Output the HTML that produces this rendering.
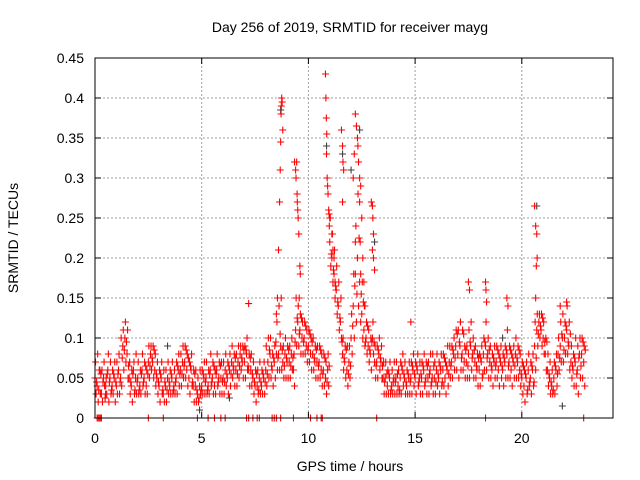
<!DOCTYPE html>
<html><head><meta charset="utf-8"><style>
body{margin:0;background:#fff}
svg{display:block;font-family:"Liberation Sans",sans-serif}
</style></head><body>
<svg id="chart" width="640" height="480" viewBox="0 0 640 480">
<text x="350" y="32" font-size="14" text-anchor="middle" fill="#000">Day 256 of 2019, SRMTID for receiver mayg</text>
<text transform="translate(18,238) rotate(-90)" font-size="14" text-anchor="middle" fill="#000">SRMTID / TECUs</text>
<text x="350" y="471" font-size="14" text-anchor="middle" fill="#000">GPS time / hours</text>
<g id="grid"></g>
<g id="ticks"></g>
<g id="gray"></g>
<g id="red"></g>
<rect x="95" y="58" width="518" height="360" fill="none" stroke="#000" stroke-width="1"/>
</svg>
<script>
// data (values in hundredths of TECU on a 0.1 h grid)
const gridStep = 0.1;
const seriesA = [5,4,6,3,5,4,6,5,4,5, 4,6,5,9,10,8,5,4,6,5, 5,4,6,5,4,7,8,7,6,5, 4,5,3,4,5,4,5,4,5,6, 6,7,7,6,5,6,4,4,3,4, 4,5,5,4,6,5,4,6,5,5, 5,6,5,6,7,6,6,7,8,7, 7,8,6,6,5,4,4,5,4,5, 6,7,8,6,7,8,8,9,7,8, 7,7,8,6,11,12,11,10,10,9, 9,8,8,7,7,7,6,6,5,6, 22,20,18,16,14,12,8,7,6,7, 10,14,18,20,17,13,11,10,9,8, 10,7,7,8,7,5,5,4,5,4, 5,5,4,5,6,5,4,5,5,6, 5,6,5,5,6,5,5,6,5,5, 6,5,6,6,5,6,7,7,8,9, 8,9,8,7,7,8,9,8,7,6, 6,7,8,9,8,7,6,7,7,6, 7,6,7,8,7,6,7,8,7,6, 5,4,5,6,5,6,9,11,12,11, 10,8,6,5,4,5,6,8,9,10, 10,11,9,7,6,7,6,8,8,7];
const seriesB = [7,8,6,6,7,5,8,7,6,7, 7,8,10,11,12,11,7,6,7,8, 7,6,8,7,6,9,9,9,8,7, 6,7,6,6,7,6,7,6,7,8, 8,9,9,8,7,8,6,6,5,6, 6,7,7,6,8,7,6,8,7,7, 7,8,7,8,9,8,8,9,9,9, 9,10,8,8,7,6,6,7,6,7, 9,10,10,8,9,12,14,15,9,10, 9,9,10,8,15,14,13,12,12,11, 11,10,10,9,9,9,8,8,7,8, 25,23,21,19,17,15,10,9,9,9, 13,18,24,28,22,17,14,12,11,10, 12,9,9,10,9,7,7,6,7,6, 7,7,6,7,8,7,6,7,7,8, 7,8,7,7,8,7,7,8,8,7, 8,7,8,8,7,9,9,9,10,11, 11,12,11,9,9,11,12,10,9,8, 8,9,10,12,10,9,8,9,9,8, 9,8,9,11,9,8,9,10,9,8, 7,6,7,8,7,8,12,13,13,13, 12,10,8,7,6,7,8,10,12,13, 12,14,12,9,8,10,9,10,10,9];
const seriesC = [3,2,3,2,4,3,2,3,3,2, 3,3,4,6,7,5,3,2,3,3, 3,3,4,3,3,5,6,5,4,3, 2,3,2,2,3,3,3,3,3,4, 4,5,5,4,3,4,2,2,2,3, 3,3,3,3,4,3,3,4,3,3, 3,4,3,4,5,4,4,5,6,5, 5,6,4,4,3,2,3,3,3,3, 4,5,5,4,5,6,6,6,5,5, 5,5,6,4,9,9,8,8,8,7, 7,6,6,5,5,5,4,4,3,4, 19,17,15,13,11,10,6,5,4,5, 8,10,12,14,12,10,9,8,7,6, 8,5,5,6,5,3,3,3,3,3, 3,3,3,3,4,3,3,3,3,4, 3,4,3,3,4,3,3,4,3,3, 4,3,4,4,3,4,5,5,6,6, 5,6,6,5,5,5,6,5,5,4, 4,5,6,6,5,5,4,5,5,4, 5,4,5,5,5,4,5,5,5,4, 3,2,3,4,3,4,6,9,10,9, 8,6,4,3,3,3,4,6,7,7, 8,8,6,5,4,4,3,5,5,4];
const seriesD = [4.5,3.5,5.5,4.5,2.5,5.5,4.5,3.5,5.5,4.5, 5.5,4.5,7.5,8.5,9.5,6.5,4.5,5.5,3.5,4.5, 3.5,5.5,4.5,6.5,5.5,6.5,7.5,8.5,5.5,4.5, 5.5,3.5,4.5,3.5,4.5,5.5,3.5,4.5,6.5,5.5, 5.5,6.5,8.5,7.5,6.5,4.5,5.5,3.5,2.5,3.5, 5.5,4.5,3.5,5.5,4.5,6.5,5.5,4.5,6.5,4.5, 4.5,5.5,6.5,5.5,6.5,7.5,5.5,6.5,7.5,8.5, 8.5,6.5,7.5,5.5,4.5,5.5,3.5,4.5,5.5,4.5, 5.5,8.5,6.5,7.5,9.5,7.5,10.5,8.5,6.5,7.5, 8.5,6.5,7.5,9.5,12.5,10.5,12.5,9.5,11.5,8.5, 10.5,9.5,7.5,8.5,6.5,8.5,5.5,7.5,4.5,6.5, 20.5,18.5,16.5,14.5,12.5,9.5,7.5,8.5,5.5,6.5, 11.5,16.5,15.5,22.5,15.5,14.5,9.5,11.5,8.5,9.5, 9.5,6.5,8.5,7.5,6.5,4.5,5.5,5.5,3.5,4.5, 4.5,5.5,3.5,6.5,5.5,4.5,5.5,4.5,6.5,5.5, 6.5,4.5,5.5,6.5,4.5,6.5,5.5,4.5,6.5,4.5, 5.5,6.5,4.5,7.5,6.5,5.5,6.5,8.5,7.5,10.5, 9.5,7.5,10.5,8.5,6.5,9.5,7.5,8.5,6.5,7.5, 7.5,5.5,9.5,7.5,8.5,6.5,7.5,6.5,8.5,7.5, 6.5,7.5,8.5,6.5,8.5,7.5,6.5,7.5,8.5,5.5, 6.5,5.5,3.5,4.5,6.5,4.5,7.5,10.5,11.5,12.5, 9.5,9.5,5.5,4.5,3.5,6.5,5.5,7.5,10.5,8.5, 11.5,9.5,10.5,6.5,7.5,5.5,7.5,6.5,9.5,8.5];
const spikeTimes = [8.5,8.55,8.6,8.65,8.68,8.7,8.72,8.73,8.75,8.77,8.8, 9.35,9.4,9.42,9.45,9.47,9.5,9.48,9.52,9.55,9.6,9.62,9.57, 10.8,10.82,10.84,10.86,10.85,10.88,10.9,10.92,10.95,10.97,11.0,10.98, 11.1,11.15,11.2,11.25,11.3, 11.55,11.6,11.62,11.65,11.6, 12.1,12.15,12.2,12.25,12.3,12.32,12.35,12.4,12.45,12.4,12.5,12.2,12.3,12.45,12.55,12.6,12.65, 12.95,13.0,13.02,13.05,13.0,13.05,13.1, 17.5,17.55,18.3,18.32,18.35,19.3,19.35, 20.6,20.65,20.7,20.72,20.68,20.65, 7.2,14.8,21.8,22.1];
const spikeValues = [0.13,0.15,0.21,0.27,0.31,0.345,0.38,0.39,0.40,0.395,0.36, 0.32,0.31,0.30,0.32,0.28,0.26,0.27,0.25,0.23,0.19,0.18,0.15, 0.43,0.40,0.375,0.355,0.33,0.30,0.29,0.28,0.26,0.255,0.25,0.24, 0.23,0.21,0.20,0.17,0.16, 0.36,0.34,0.32,0.31,0.27, 0.30,0.33,0.38,0.365,0.35,0.34,0.32,0.30,0.29,0.27,0.25,0.22,0.20,0.18,0.20,0.17,0.14, 0.27,0.265,0.25,0.23,0.21,0.20,0.185, 0.17,0.16,0.17,0.16,0.145,0.15,0.14, 0.265,0.24,0.23,0.20,0.19,0.15, 0.143,0.12,0.14,0.145];
const zeroTimes = [0.1,0.15,0.2,0.25,0.3,2.5,3.2,4.8,5.3,5.6,5.9,6.1,7.1,7.2,7.4,7.6,7.7,8.3,8.4,8.5,8.7,9.3,10.1,10.4,10.6,10.65,13.2,18.3,22.9];
const grayTimes = [8.7,10.85,11.6,12.4,20.7,21.9,4.9,12.0,13.1,19.1,0.5,3.4,6.3];
const grayValues = [0.385,0.34,0.33,0.36,0.265,0.015,0.01,0.31,0.22,0.1,0.03,0.09,0.025];
const xTicks = [0,5,10,15,20];
const yTicks = [0,0.05,0.1,0.15,0.2,0.25,0.3,0.35,0.4,0.45];
const yTickLabels = ["0","0.05","0.1","0.15","0.2","0.25","0.3","0.35","0.4","0.45"];

const X0=95, X1=613, Y0=418, Y1=58, XMAX=(613-95)/21.34;
function xs(t){return X0+t*(X1-X0)/XMAX;}
function ys(v){return Y0-v*(Y0-Y1)/0.45;}
const NS="http://www.w3.org/2000/svg";
const grid=document.getElementById('grid'), ticks=document.getElementById('ticks');
function mk(tag,attrs,parent){const e=document.createElementNS(NS,tag);for(const k in attrs)e.setAttribute(k,attrs[k]);parent.appendChild(e);return e;}
yTicks.forEach((v,i)=>{
  const y=ys(v);
  if(i>0&&i<yTicks.length-1){
    const g=mk('line',{x1:X0,x2:X1,y1:y,y2:y,stroke:'#a0a0a0','stroke-dasharray':'2,2','stroke-width':1},grid);
    
    
  }
  const t=mk('line',{x1:X0,x2:X0+6,y1:y,y2:y,stroke:'#000'},ticks);
  
  
  const t2=mk('line',{x1:X1-6,x2:X1,y1:y,y2:y,stroke:'#000'},ticks);
  
  
  const l=mk('text',{x:X0-11,y:y+5,'font-size':14,'text-anchor':'end',fill:'#000'},ticks);
  l.textContent=yTickLabels[i];
  
  
});
xTicks.forEach(h=>{
  const x=xs(h);
  if(h>0){
    const g=mk('line',{x1:x,x2:x,y1:Y1,y2:Y0,stroke:'#a0a0a0','stroke-dasharray':'2,2','stroke-width':1},grid);
    
    
  }
  const t=mk('line',{x1:x,x2:x,y1:Y0,y2:Y0-6,stroke:'#000'},ticks);
  
  
  const t2=mk('line',{x1:x,x2:x,y1:Y1,y2:Y1+6,stroke:'#000'},ticks);
  
  
  const l=mk('text',{x:x,y:Y0+25,'font-size':14,'text-anchor':'middle',fill:'#000'},ticks);
  l.textContent=String(h);
  
  
});
function plus(t,v,color,parent){
  const x=xs(t),y=ys(v);
  const p=mk('path',{d:`M${x-3.5},${y}H${x+3.5}M${x},${y-3.5}V${y+3.5}`,stroke:color,'stroke-width':1.1,fill:'none'},parent);
  
  
}
const gray=document.getElementById('gray'), red=document.getElementById('red');
grayTimes.forEach((t,i)=>plus(t,grayValues[i],'#404040',gray));
[seriesA,seriesB,seriesC,seriesD].forEach((s,k)=>{
  s.forEach((v,i)=>plus(i*gridStep+k*0.025,v/100,'#ff0000',red));
});
spikeTimes.forEach((t,i)=>plus(t,spikeValues[i],'#ff0000',red));
zeroTimes.forEach(t=>plus(t,0,'#ff0000',red));
</script>
</body></html>
